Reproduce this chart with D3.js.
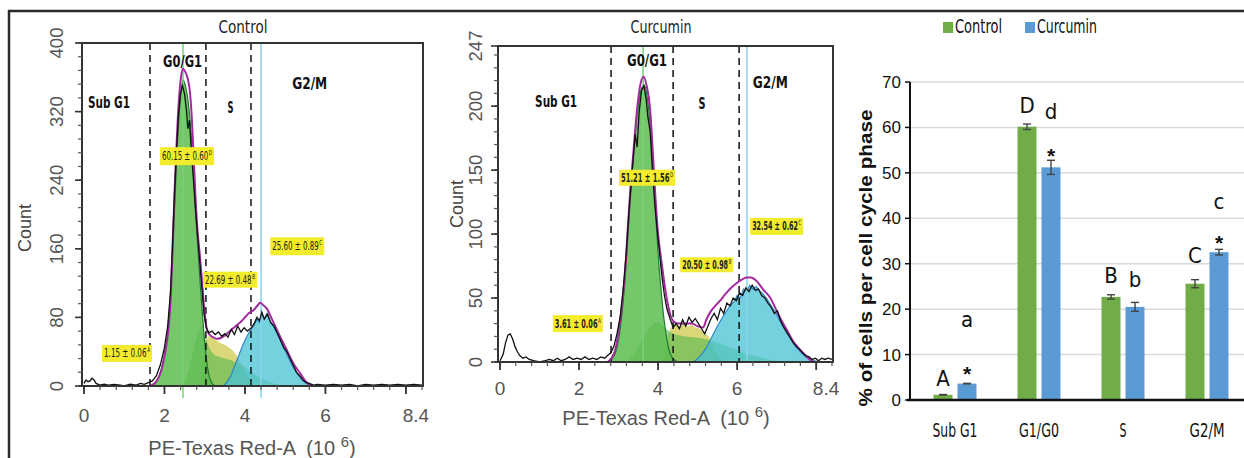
<!DOCTYPE html>
<html><head><meta charset="utf-8">
<script src="https://cdn.jsdelivr.net/npm/d3@7"></script>
<style>
html,body{margin:0;padding:0;background:#fff;}
svg{display:block;}
text{white-space:pre;}
</style></head><body>
<svg id="c" width="1244" height="458"></svg>
<script>
// ================= DATA =================
// Control histogram (x in 10^6 PE-Texas Red-A units, y = count)
const ctrlRaw = [[0,3],[0.05,7],[0.1,5],[0.15,6],[0.2,9],[0.25,7],[0.3,3],[0.4,1],[0.5,2],[0.6,1],[0.75,2],[0.9,1],[1.0,0],[1.15,2],[1.3,1],[1.4,3],[1.5,2],[1.6,4],[1.7,6],[1.8,12],[1.9,25],[2.0,45],[2.08,70],[2.15,110],[2.2,165],[2.25,225],[2.3,275],[2.35,318],[2.4,342],[2.45,350],[2.5,340],[2.55,320],[2.58,300],[2.62,310],[2.66,280],[2.72,240],[2.78,200],[2.85,160],[2.92,120],[2.98,85],[3.04,68],[3.1,62],[3.18,64],[3.26,60],[3.34,63],[3.42,58],[3.5,61],[3.58,57],[3.66,66],[3.74,60],[3.82,70],[3.9,63],[3.98,68],[4.06,64],[4.14,67],[4.22,72],[4.3,80],[4.36,76],[4.42,86],[4.48,78],[4.56,84],[4.64,74],[4.72,70],[4.8,62],[4.88,54],[4.96,45],[5.04,40],[5.12,32],[5.2,24],[5.28,16],[5.36,12],[5.44,7],[5.52,4],[5.6,3],[5.7,1],[5.8,2],[6.0,1],[6.2,2],[6.4,1],[6.6,2],[6.8,0],[7.0,2],[7.2,1],[7.4,2],[7.6,1],[7.8,2],[8.0,1],[8.2,2],[8.4,1]];
const ctrlFit = [[1.62,0],[1.72,2],[1.82,7],[1.92,18],[2.0,35],[2.07,55],[2.12,78],[2.17,120],[2.21,175],[2.26,238],[2.31,292],[2.36,334],[2.41,360],[2.46,370],[2.52,366],[2.58,358],[2.63,344],[2.68,312],[2.72,272],[2.77,222],[2.82,182],[2.88,152],[2.94,118],[3.0,84],[3.05,67],[3.12,60],[3.2,57],[3.3,55],[3.4,56],[3.5,59],[3.6,63],[3.7,67],[3.8,71],[3.9,75],[4.0,80],[4.1,85],[4.2,88],[4.3,93],[4.38,97],[4.46,94],[4.55,90],[4.65,80],[4.8,65],[4.92,53],[5.04,42],[5.15,31],[5.26,22],[5.37,15],[5.5,6],[5.62,1],[5.7,0]];
const ctrlG1 = [[1.68,0],[1.78,4],[1.88,13],[1.98,32],[2.06,55],[2.12,80],[2.17,120],[2.22,172],[2.27,228],[2.32,280],[2.37,320],[2.42,346],[2.46,357],[2.51,352],[2.57,338],[2.62,318],[2.67,290],[2.72,250],[2.77,205],[2.83,160],[2.89,118],[2.95,80],[3.0,50],[3.06,25],[3.12,10],[3.2,2],[3.28,0]];
const ctrlHump = [[2.45,0],[2.55,10],[2.65,28],[2.75,48],[2.85,64],[2.92,70],[3.0,60],[3.1,46],[3.2,38],[3.35,34],[3.5,32],[3.65,30],[3.8,27],[3.95,23],[4.1,18],[4.25,13],[4.4,9],[4.6,5],[4.8,2],[5.0,0]];
const ctrlS = [[2.9,0],[2.98,40],[3.05,56],[3.12,58],[3.2,56],[3.3,53],[3.4,50],[3.5,48],[3.6,45],[3.7,41],[3.8,35],[3.9,27],[4.0,17],[4.1,8],[4.2,2],[4.3,0]];
const ctrlG2 = [[3.45,0],[3.55,4],[3.65,12],[3.75,24],[3.85,36],[3.95,48],[4.05,58],[4.15,66],[4.22,70],[4.3,78],[4.36,74],[4.42,85],[4.48,78],[4.54,84],[4.62,76],[4.7,70],[4.8,61],[4.9,51],[5.0,41],[5.1,31],[5.2,22],[5.3,14],[5.4,8],[5.5,4],[5.6,1],[5.7,0]];
const ctrlGates = [1.64, 3.03, 4.15];
const ctrlMeans = [2.46, 4.4];
const ctrlYTicks = [0, 80, 160, 240, 320, 400];

// Curcumin histogram
const curRaw = [[0,1],[0.08,6],[0.14,15],[0.2,21],[0.26,22],[0.32,18],[0.38,12],[0.44,8],[0.5,5],[0.58,3],[0.66,4],[0.74,2],[0.85,1],[1.0,0],[1.15,1],[1.25,2],[1.35,1],[1.45,3],[1.55,1],[1.65,2],[1.75,4],[1.85,2],[1.95,3],[2.05,2],[2.15,4],[2.25,2],[2.35,3],[2.45,2],[2.55,4],[2.65,3],[2.72,5],[2.8,7],[2.88,12],[2.96,22],[3.04,35],[3.12,58],[3.2,88],[3.28,125],[3.36,155],[3.42,178],[3.47,168],[3.52,195],[3.58,212],[3.64,216],[3.7,205],[3.74,192],[3.8,180],[3.86,148],[3.92,122],[3.98,102],[4.04,84],[4.1,66],[4.16,52],[4.22,42],[4.3,34],[4.38,27],[4.46,30],[4.54,26],[4.62,33],[4.7,28],[4.78,35],[4.86,31],[4.94,34],[5.02,30],[5.1,26],[5.18,22],[5.26,28],[5.34,34],[5.42,38],[5.5,33],[5.58,42],[5.66,38],[5.74,46],[5.82,44],[5.9,50],[5.98,48],[6.06,54],[6.14,52],[6.22,58],[6.3,55],[6.38,60],[6.46,56],[6.54,57],[6.62,52],[6.7,50],[6.78,46],[6.86,43],[6.94,38],[7.02,40],[7.1,32],[7.18,27],[7.26,23],[7.34,19],[7.42,15],[7.5,12],[7.58,10],[7.66,7],[7.74,5],[7.82,4],[7.9,2],[7.98,3],[8.06,1],[8.14,3],[8.22,2],[8.3,3],[8.4,2]];
const curFit = [[2.72,0],[2.82,3],[2.92,10],[3.02,28],[3.1,48],[3.17,72],[3.24,108],[3.31,140],[3.37,162],[3.46,195],[3.54,215],[3.63,223],[3.71,216],[3.8,197],[3.87,162],[3.94,125],[4.0,100],[4.07,82],[4.13,68],[4.19,55],[4.26,43],[4.33,35],[4.42,31],[4.55,30],[4.7,30],[4.85,30],[5.0,28],[5.14,27],[5.22,33],[5.32,39],[5.45,44],[5.57,48],[5.7,53],[5.85,58],[6.0,62],[6.15,65],[6.25,66],[6.35,66],[6.5,63],[6.65,57],[6.84,50],[7.0,40],[7.13,32],[7.26,25],[7.4,17],[7.55,11],[7.67,7],[7.8,3],[7.93,0]];
const curG1 = [[2.75,0],[2.85,3],[2.95,10],[3.05,28],[3.13,52],[3.2,82],[3.28,120],[3.36,155],[3.44,185],[3.52,205],[3.6,215],[3.66,216],[3.72,208],[3.8,185],[3.87,152],[3.94,115],[4.0,85],[4.07,58],[4.14,36],[4.22,18],[4.3,7],[4.4,2],[4.5,0]];
const curHump = [[3.2,0],[3.35,5],[3.5,12],[3.65,20],[3.8,27],[3.95,31],[4.05,30],[4.2,26],[4.4,22],[4.7,20],[5.0,19],[5.3,17],[5.6,14],[6.0,9],[6.4,5],[6.8,2],[7.2,0]];
const curS = [[4.15,0],[4.25,20],[4.35,28],[4.45,30],[4.55,28],[4.65,30],[4.75,28],[4.85,29],[4.95,27],[5.05,26],[5.15,23],[5.25,21],[5.35,16],[5.45,9],[5.55,3],[5.65,0]];
const curG2 = [[4.9,0],[5.05,4],[5.2,10],[5.35,19],[5.5,28],[5.65,36],[5.8,43],[5.92,47],[6.0,52],[6.08,50],[6.16,57],[6.24,55],[6.32,60],[6.4,57],[6.48,59],[6.56,56],[6.66,53],[6.76,49],[6.88,43],[7.0,37],[7.12,30],[7.24,24],[7.36,18],[7.48,12],[7.6,8],[7.72,4],[7.84,2],[7.96,1],[8.1,0]];
const curGates = [2.81, 4.38, 6.05];
const curMeans = [3.62, 6.25];
const curYTicks = [0, 50, 100, 150, 200, 247];

const xTicks = [0, 2, 4, 6];
const xEndLabel = "8.4";
const phaseNames = ["Sub G1", "G0/G1", "S", "G2/M"];

// Bar chart
const categories = ["Sub G1", "G1/G0", "S", "G2/M"];
const seriesNames = ["Control", "Curcumin"];
const controlVals = [1.15, 60.15, 22.69, 25.60];
const controlErr  = [0.06, 0.60, 0.48, 0.89];
const curcuminVals = [3.61, 51.21, 20.50, 32.54];
const curcuminErr  = [0.06, 1.56, 0.98, 0.62];
const controlLetters = ["A", "D", "B", "C"];
const curcuminLetters = ["a", "d", "b", "c"];
const curcuminStar = [true, true, false, true];
const barYTicks = [0, 10, 20, 30, 40, 50, 60, 70];

// ================= DRAW =================
const svg = d3.select('#c');
const NARROW = '"Liberation Sans Narrow","Arial Narrow","DejaVu Sans Condensed","Roboto Condensed","Liberation Sans",sans-serif';
const ARIAL = '"Liberation Sans",Arial,"DejaVu Sans",sans-serif';
const fmt = (v) => v.toFixed(2);

function fitText(sel, w) {
  sel.attr('textLength', w).attr('lengthAdjust', 'spacingAndGlyphs');
  return sel;
}

// outer frame
svg.append('line').attr('x1', 8).attr('x2', 1244).attr('y1', 11).attr('y2', 11)
  .attr('stroke', '#2a2a2a').attr('stroke-width', 2.5);
svg.append('line').attr('x1', 9).attr('x2', 9).attr('y1', 10).attr('y2', 458)
  .attr('stroke', '#2a2a2a').attr('stroke-width', 2.5);

function histPanel(p) {
  const x = d3.scaleLinear().domain([0, 8.4]).range([p.x0, p.x1]);
  const y = d3.scaleLinear().domain([0, p.yMax]).range([p.y0, p.y1]);
  const g = svg.append('g');
  const areaS = d3.area().x(d => x(d[0])).y0(y(0)).y1(d => y(d[1])).curve(d3.curveMonotoneX);
  const areaL = d3.area().x(d => x(d[0])).y0(y(0)).y1(d => y(d[1]));
  const lineS = d3.line().x(d => x(d[0])).y(d => y(d[1])).curve(d3.curveMonotoneX);
  const lineL = d3.line().x(d => x(d[0])).y(d => y(d[1]));

  g.append('path').datum(p.S).attr('d', areaS).attr('fill', '#d6d36a').attr('opacity', 0.9);
  g.append('path').datum(p.hump).attr('d', areaS).attr('fill', '#47b54a').attr('opacity', 0.55);
  g.append('path').datum(p.G2).attr('d', areaL).attr('fill', '#48c2d4').attr('opacity', 0.75);
  g.append('path').datum(p.G2).attr('d', lineL).attr('fill', 'none').attr('stroke', '#2f86c8').attr('stroke-width', 1.2);
  g.append('path').datum(p.G1).attr('d', areaS).attr('fill', '#5dbd50').attr('opacity', 0.85);
  g.append('path').datum(p.G1).attr('d', lineS).attr('fill', 'none').attr('stroke', '#1f7a30').attr('stroke-width', 1.2);

  // gate lines
  p.gates.forEach(v => {
    g.append('line').attr('x1', x(v)).attr('x2', x(v)).attr('y1', p.y1).attr('y2', p.y0)
      .attr('stroke', '#111').attr('stroke-width', 1.5).attr('stroke-dasharray', '7,5');
  });
  g.append('line').attr('x1', x(p.means[0])).attr('x2', x(p.means[0])).attr('y1', p.y1).attr('y2', p.meanBottom)
    .attr('stroke', '#78d278').attr('stroke-width', 1.5);
  g.append('line').attr('x1', x(p.means[1])).attr('x2', x(p.means[1])).attr('y1', p.y1).attr('y2', p.meanBottom)
    .attr('stroke', '#88d4ea').attr('stroke-width', 1.5);

  g.append('path').datum(p.fit).attr('d', lineS).attr('fill', 'none').attr('stroke', '#a4289f').attr('stroke-width', 2);
  g.append('path').datum(p.raw).attr('d', lineL).attr('fill', 'none').attr('stroke', '#111').attr('stroke-width', 1.3);

  // frame
  const L = p.x0 - 2, R = p.x1 + 1;
  g.append('path').attr('d', `M${L},${p.y0}V${p.y1}H${R}V${p.y0}Z`).attr('fill', 'none')
    .attr('stroke', '#333').attr('stroke-width', 2);
  // y ticks
  for (let v = 0; v <= p.yMax; v += p.yMinor) {
    g.append('line').attr('x1', L - 4).attr('x2', L).attr('y1', y(v)).attr('y2', y(v)).attr('stroke', '#555').attr('stroke-width', 1.2);
  }
  p.yTicks.forEach(v => {
    g.append('line').attr('x1', L - 7).attr('x2', L).attr('y1', y(v)).attr('y2', y(v)).attr('stroke', '#333').attr('stroke-width', 1.6);
    g.append('text').attr('transform', `translate(${p.yLabX},${y(v)}) rotate(-90)`)
      .attr('text-anchor', 'middle').attr('font-family', ARIAL).attr('font-size', 18.5).attr('fill', '#555').text(v);
  });
  // x ticks
  for (let v = 0; v <= 8.41; v += 0.4) {
    g.append('line').attr('x1', x(v)).attr('x2', x(v)).attr('y1', p.y0).attr('y2', p.y0 + 4).attr('stroke', '#555').attr('stroke-width', 1.2);
  }
  [0, 2, 4, 6, 8].forEach(v => {
    g.append('line').attr('x1', x(v)).attr('x2', x(v)).attr('y1', p.y0).attr('y2', p.y0 + 8).attr('stroke', '#333').attr('stroke-width', 1.8);
  });
  xTicks.forEach(v => {
    g.append('text').attr('x', x(v)).attr('y', p.xLabY).attr('text-anchor', 'middle')
      .attr('font-family', ARIAL).attr('font-size', 19).attr('fill', '#555').text(v);
  });
  g.append('text').attr('x', x(8.25)).attr('y', p.xLabY).attr('text-anchor', 'middle')
    .attr('font-family', ARIAL).attr('font-size', 19).attr('fill', '#555').text(xEndLabel);

  // axis titles
  const xt = g.append('text').attr('x', p.xTitleX).attr('y', p.xTitleY).attr('text-anchor', 'middle')
    .attr('font-family', ARIAL).attr('font-size', 20).attr('fill', '#555');
  xt.append('tspan').text('PE-Texas Red-A  (10 ');
  xt.append('tspan').attr('font-size', 15).attr('dy', -8).text('6');
  xt.append('tspan').attr('dy', 8).text(')');
  g.append('text').attr('transform', `translate(${p.countX},${p.countY}) rotate(-90)`)
    .attr('text-anchor', 'middle').attr('font-family', ARIAL).attr('font-size', 18).attr('fill', '#444').text('Count');

  // title
  fitText(g.append('text').attr('x', p.titleX).attr('y', 33).attr('text-anchor', 'middle')
    .attr('font-family', NARROW).attr('font-size', 18).attr('fill', '#222').text(p.title), p.titleW);

  // phase names
  phaseNames.forEach((n, i) => {
    const pos = p.phasePos[i];
    fitText(g.append('text').attr('x', x(pos[0])).attr('y', y(pos[1])).attr('text-anchor', 'middle')
      .attr('font-family', NARROW).attr('font-weight', 'bold').attr('font-size', 16).attr('fill', '#111').text(n), p.phaseW[i]);
  });

  // yellow boxes (label squeezed with a horizontal scale so its box really fits)
  p.boxes.forEach((b, i) => {
    const cx = x(b.pos[0]), cy = y(b.pos[1]);
    const x0 = cx - b.w / 2;
    g.append('rect').attr('x', x0).attr('y', cy - b.h / 2).attr('width', b.w).attr('height', b.h)
      .attr('fill', '#f3ec2c');
    const lg = g.append('g');
    const main = lg.append('text').attr('x', 0).attr('y', 0)
      .attr('font-family', NARROW).attr('font-size', 12).attr('font-weight', p.boxBold ? 'bold' : 'normal').attr('fill', '#222')
      .text(fmt(p.vals[i]) + ' ± ' + fmt(p.errs[i]));
    const len = main.node().getComputedTextLength();
    const sup = lg.append('text').attr('x', len + 1).attr('y', -5)
      .attr('font-family', NARROW).attr('font-size', 7).attr('fill', '#222').text(p.letters[i]);
    const total = len + 1 + sup.node().getComputedTextLength();
    const sx = (b.w - 4) / total;
    lg.attr('transform', `translate(${x0 + 2},${cy + 4}) scale(${sx},1)`);
  });
}

histPanel({
  x0: 84, x1: 422, y0: 386, y1: 43, yMax: 400, yMinor: 16, yTicks: ctrlYTicks, yLabX: 63,
  xLabY: 422, xTitleX: 252, xTitleY: 455, countX: 31, countY: 228, meanBottom: 398,
  raw: ctrlRaw, fit: ctrlFit, G1: ctrlG1, hump: ctrlHump, S: ctrlS, G2: ctrlG2,
  gates: ctrlGates, means: ctrlMeans, title: 'Control', titleX: 243, titleW: 49,
  phasePos: [[0.62, 324], [2.45, 372], [3.64, 318], [5.61, 346]], phaseW: [42, 39, 6, 35],
  vals: controlVals, errs: controlErr, letters: controlLetters, boxBold: false,
  boxes: [{pos: [1.07, 38], w: 50, h: 17}, {pos: [2.56, 268], w: 54, h: 18}, {pos: [3.63, 124], w: 54, h: 16}, {pos: [5.30, 163], w: 54, h: 18}]
});
histPanel({
  x0: 500, x1: 832, y0: 362, y1: 46, yMax: 247, yMinor: 10, yTicks: curYTicks, yLabX: 482,
  xLabY: 395, xTitleX: 666, xTitleY: 425, countX: 463, countY: 204, meanBottom: 362,
  raw: curRaw, fit: curFit, G1: curG1, hump: curHump, S: curS, G2: curG2,
  gates: curGates, means: curMeans, title: 'Curcumin', titleX: 661, titleW: 61,
  phasePos: [[1.42, 199], [3.72, 231], [5.11, 198], [6.84, 214]], phaseW: [42, 40, 7, 35],
  vals: curcuminVals, errs: curcuminErr, letters: controlLetters, boxBold: true,
  boxes: [{pos: [1.97, 30], w: 50, h: 17}, {pos: [3.72, 144], w: 56, h: 16}, {pos: [5.23, 76], w: 53, h: 15}, {pos: [7.0, 106], w: 53, h: 17}]
});

// ---------- bar chart ----------
(function () {
  const g = svg.append('g');
  const yb = d3.scaleLinear().domain([0, 70]).range([400, 82]);
  const xb = d3.scaleBand().domain(categories).range([913, 1249]);
  const barW = 19, gap = 5;
  const colors = ['#70ad47', '#5b9bd5'];

  barYTicks.filter(v => v > 0).forEach(v => {
    g.append('line').attr('x1', 910).attr('x2', 1244).attr('y1', yb(v)).attr('y2', yb(v))
      .attr('stroke', '#d9d9d9').attr('stroke-width', 1.5);
  });
  barYTicks.forEach(v => {
    g.append('line').attr('x1', 905).attr('x2', 910).attr('y1', yb(v)).attr('y2', yb(v)).attr('stroke', '#111').attr('stroke-width', 1.5);
    g.append('text').attr('x', 901).attr('y', yb(v) + 6).attr('text-anchor', 'end')
      .attr('font-family', ARIAL).attr('font-size', 17).attr('fill', '#111').text(v);
  });

  const series = [
    {vals: controlVals, errs: controlErr, color: colors[0], off: -gap / 2 - barW},
    {vals: curcuminVals, errs: curcuminErr, color: colors[1], off: gap / 2}
  ];
  series.forEach(s => {
    categories.forEach((c, i) => {
      const cx = xb(c) + xb.bandwidth() / 2;
      const bx = cx + s.off;
      g.append('rect').attr('x', bx).attr('y', yb(s.vals[i])).attr('width', barW)
        .attr('height', yb(0) - yb(s.vals[i])).attr('fill', s.color);
      const mx = bx + barW / 2;
      const lo = yb(s.vals[i] - s.errs[i]), hi = yb(s.vals[i] + s.errs[i]);
      g.append('line').attr('x1', mx).attr('x2', mx).attr('y1', lo).attr('y2', hi).attr('stroke', '#444').attr('stroke-width', 1.4);
      [lo, hi].forEach(yy => g.append('line').attr('x1', mx - 4).attr('x2', mx + 4).attr('y1', yy).attr('y2', yy).attr('stroke', '#444').attr('stroke-width', 1.4));
    });
  });

  // letters
  const ctrlGap = [9, 11, 12, 17];
  const curLetterGap = [56, 41, 15, 40];
  const starGap = [9, 4, 0, 6];
  categories.forEach((c, i) => {
    const cx = xb(c) + xb.bandwidth() / 2;
    const gx = cx - gap / 2 - barW / 2, bx = cx + gap / 2 + barW / 2;
    g.append('text').attr('x', gx).attr('y', yb(controlVals[i] + controlErr[i]) - ctrlGap[i])
      .attr('text-anchor', 'middle').attr('font-family', NARROW).attr('font-size', 22).attr('fill', '#111').text(controlLetters[i]);
    g.append('text').attr('x', bx).attr('y', yb(curcuminVals[i] + curcuminErr[i]) - curLetterGap[i])
      .attr('text-anchor', 'middle').attr('font-family', NARROW).attr('font-size', 22).attr('fill', '#111').text(curcuminLetters[i]);
    if (curcuminStar[i]) {
      g.append('text').attr('x', bx).attr('y', yb(curcuminVals[i] + curcuminErr[i]) - starGap[i] + 7)
        .attr('text-anchor', 'middle').attr('font-family', ARIAL).attr('font-weight', 'bold').attr('font-size', 21).attr('fill', '#111').text('*');
    }
  });

  // axes lines
  g.append('line').attr('x1', 910).attr('x2', 910).attr('y1', 82).attr('y2', 401).attr('stroke', '#111').attr('stroke-width', 2);
  g.append('line').attr('x1', 907).attr('x2', 1244).attr('y1', 400).attr('y2', 400).attr('stroke', '#111').attr('stroke-width', 2.5);

  const catW = [45, 40, 7, 35];
  categories.forEach((c, i) => {
    fitText(g.append('text').attr('x', xb(c) + xb.bandwidth() / 2).attr('y', 437).attr('text-anchor', 'middle')
      .attr('font-family', NARROW).attr('font-size', 20).attr('fill', '#111').text(c), catW[i]);
  });

  g.append('text').attr('transform', 'translate(872,258) rotate(-90)').attr('text-anchor', 'middle')
    .attr('font-family', ARIAL).attr('font-weight', 'bold').attr('font-size', 19).attr('fill', '#111')
    .attr('textLength', 297).attr('lengthAdjust', 'spacingAndGlyphs').text('% of cells per cell cycle phase');

  // legend
  const legX = [943, 1025], legW = [47, 60];
  seriesNames.forEach((n, i) => {
    g.append('rect').attr('x', legX[i]).attr('y', 22).attr('width', 10).attr('height', 11).attr('fill', colors[i]);
    fitText(g.append('text').attr('x', legX[i] + 12).attr('y', 33).attr('font-family', NARROW).attr('font-size', 19)
      .attr('fill', '#111').text(n), legW[i]);
  });
})();
</script>
</body></html>
